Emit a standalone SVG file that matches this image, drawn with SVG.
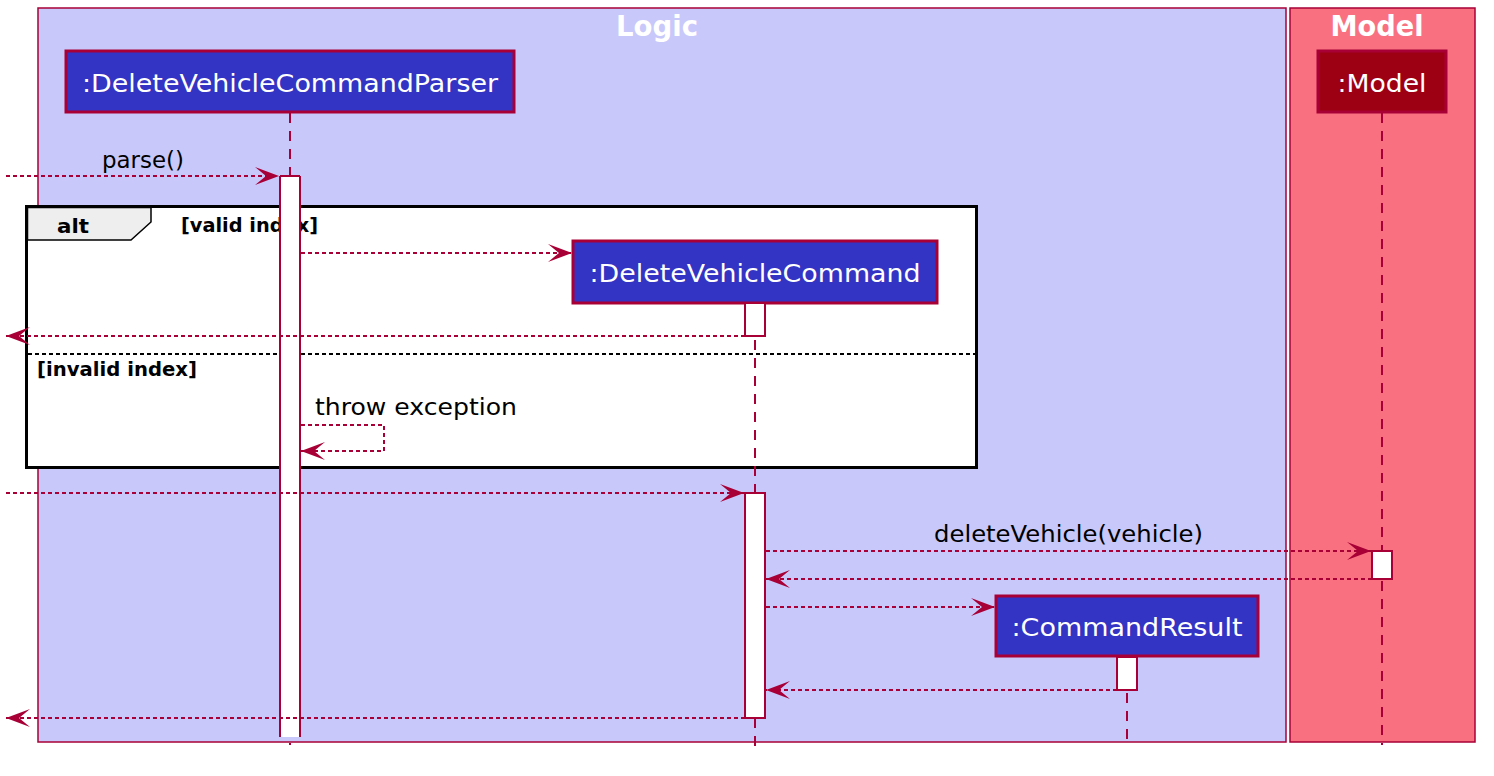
<svg xmlns="http://www.w3.org/2000/svg" width="1494" height="776" viewBox="0 0 1494 776">
<style>
.box{stroke:#A80036;stroke-width:1.5}
.part{fill:#3333C4;stroke:#A80036;stroke-width:3}
.mpart{fill:#9D0012;stroke:#A80036;stroke-width:3}
.ptxt{font-family:"DejaVu Sans","Liberation Sans",sans-serif;font-size:25px;fill:#FFFFFF}
.title{font-family:"DejaVu Sans","Liberation Sans",sans-serif;font-size:28px;font-weight:bold;fill:#FFFFFF}
.msg{font-family:"DejaVu Sans","Liberation Sans",sans-serif;font-size:23px;fill:#000000}
.grd{font-family:"DejaVu Sans","Liberation Sans",sans-serif;font-size:19px;font-weight:bold;fill:#000000}
.life{stroke:#A80036;stroke-width:2;stroke-dasharray:10,8;fill:none}
.act{fill:#FFFFFF;stroke:#A80036;stroke-width:2}
.arr{stroke:#A80036;stroke-width:2;stroke-dasharray:4,3;fill:none}
</style>
<defs>
<marker id="ah" markerUnits="userSpaceOnUse" markerWidth="26" markerHeight="20" refX="24" refY="9" orient="auto" overflow="visible">
<polygon points="0,0 24,9 0,18 11,9" fill="#A80036" stroke="none"/>
</marker>
</defs>
<g id="box-logic">
<rect class="box" x="38" y="8" width="1248" height="734" fill="#C8C8FA"/>
<text class="title" x="657" y="36" text-anchor="middle" textLength="82" lengthAdjust="spacingAndGlyphs">Logic</text>
</g>
<g id="box-model">
<rect class="box" x="1290" y="8" width="185" height="734" fill="#F97181"/>
<text class="title" x="1377" y="36" text-anchor="middle" textLength="93" lengthAdjust="spacingAndGlyphs">Model</text>
</g>
<g id="frame-alt">
<rect x="26.5" y="206.5" width="950" height="261" fill="#FFFFFF" stroke="#000000" stroke-width="3"/>
<polygon points="27.5,207.5 151,207.5 151,222 131,240 27.5,240" fill="#EEEEEE" stroke="#000000" stroke-width="1.5"/>
<text class="grd" x="57" y="233" font-size="22" textLength="32" lengthAdjust="spacingAndGlyphs">alt</text>
<text class="grd" x="181" y="232" textLength="137" lengthAdjust="spacingAndGlyphs">[valid index]</text>
<line x1="28" y1="354" x2="975" y2="354" stroke="#000000" stroke-width="2" stroke-dasharray="4,3"/>
<text class="grd" x="37" y="376" textLength="160" lengthAdjust="spacingAndGlyphs">[invalid index]</text>
</g>
<g id="lifelines">
<line class="life" x1="290" y1="113" x2="290" y2="745"/>
<line class="life" x1="755" y1="304" x2="755" y2="753"/>
<line class="life" x1="1127" y1="657" x2="1127" y2="747"/>
<line class="life" x1="1382" y1="113" x2="1382" y2="745"/>
</g>
<g id="node-parser">
<rect class="part" x="66" y="51" width="448" height="61"/>
<text class="ptxt" x="290" y="92" text-anchor="middle" textLength="416" lengthAdjust="spacingAndGlyphs">:DeleteVehicleCommandParser</text>
</g>
<g id="node-model">
<rect class="mpart" x="1318" y="51" width="128" height="61"/>
<text class="ptxt" x="1382" y="92" text-anchor="middle" textLength="89" lengthAdjust="spacingAndGlyphs">:Model</text>
</g>
<g id="node-command">
<rect class="part" x="573" y="241" width="364" height="62"/>
<text class="ptxt" x="755" y="282" text-anchor="middle" textLength="331" lengthAdjust="spacingAndGlyphs">:DeleteVehicleCommand</text>
</g>
<g id="node-result">
<rect class="part" x="996" y="596" width="262" height="60"/>
<text class="ptxt" x="1127" y="636" text-anchor="middle" textLength="231" lengthAdjust="spacingAndGlyphs">:CommandResult</text>
</g>
<g id="activations">
<rect x="280" y="176" width="20" height="561" fill="#FFFFFF"/>
<line x1="280" y1="176" x2="300" y2="176" stroke="#A80036" stroke-width="2"/>
<line x1="280" y1="176" x2="280" y2="737" stroke="#A80036" stroke-width="2"/>
<line x1="300" y1="176" x2="300" y2="737" stroke="#A80036" stroke-width="2"/>
<rect class="act" x="745" y="303" width="20" height="33"/>
<rect class="act" x="745" y="493" width="20" height="225"/>
<rect class="act" x="1372" y="551" width="20" height="28"/>
<rect class="act" x="1117" y="657" width="20" height="33"/>
</g>
<g id="connectors">
<line class="arr" x1="6" y1="176" x2="279" y2="176" marker-end="url(#ah)"/>
<text class="msg" x="102" y="168" textLength="82" lengthAdjust="spacingAndGlyphs">parse()</text>
<line class="arr" x1="301" y1="253" x2="572" y2="253" marker-end="url(#ah)"/>
<line class="arr" x1="745" y1="336" x2="6" y2="336" marker-end="url(#ah)"/>
<polyline class="arr" points="301,425 384,425 384,451 301,451" marker-end="url(#ah)"/>
<text class="msg" x="315" y="415" textLength="202" lengthAdjust="spacingAndGlyphs">throw exception</text>
<line class="arr" x1="6" y1="493" x2="744" y2="493" marker-end="url(#ah)"/>
<line class="arr" x1="766" y1="551" x2="1371" y2="551" marker-end="url(#ah)"/>
<text class="msg" x="934" y="542" textLength="269" lengthAdjust="spacingAndGlyphs">deleteVehicle(vehicle)</text>
<line class="arr" x1="1372" y1="579" x2="766" y2="579" marker-end="url(#ah)"/>
<line class="arr" x1="766" y1="607" x2="995" y2="607" marker-end="url(#ah)"/>
<line class="arr" x1="1117" y1="690" x2="766" y2="690" marker-end="url(#ah)"/>
<line class="arr" x1="745" y1="718" x2="6" y2="718" marker-end="url(#ah)"/>
</g>
</svg>
